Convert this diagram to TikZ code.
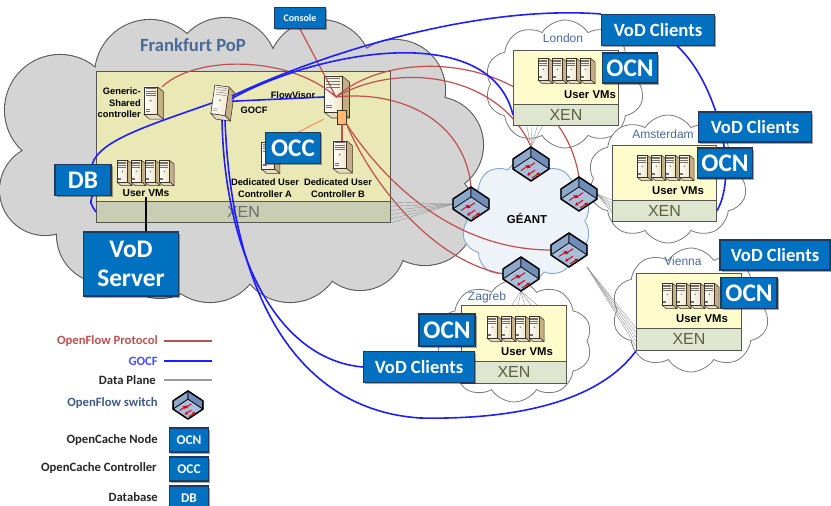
\documentclass[tikz,border=0pt]{standalone}
\usepackage{fontspec}
\setmainfont{Carlito}
\newfontfamily\arialfont{Liberation Sans}
\usetikzlibrary{shapes.symbols,shadows,calc,arrows.meta}

\definecolor{ofred}{HTML}{C0504D}
\definecolor{gocfblue}{HTML}{1E1EFF}
\definecolor{tagblue}{HTML}{0070C0}
\definecolor{tagedge}{HTML}{1F3A5F}
\definecolor{popgray}{HTML}{D4D4D4}
\definecolor{popedge}{HTML}{5A5A5A}
\definecolor{cityedge}{HTML}{7A7A7A}
\definecolor{geantfill}{HTML}{EEF2F9}
\definecolor{geantedge}{HTML}{88A8D2}
\definecolor{vmyellow}{HTML}{FEFCCA}
\definecolor{xengreen}{HTML}{DFE6CF}
\definecolor{fravm}{HTML}{EAE8B5}
\definecolor{fraxen}{HTML}{C9CEB2}
\definecolor{boxedge}{HTML}{555555}
\definecolor{xentext}{HTML}{5E5E40}
\definecolor{citytext}{HTML}{4A6A9A}
\definecolor{srvfront}{HTML}{F1E6CC}
\definecolor{srvtop}{HTML}{E8DCC0}
\definecolor{srvside}{HTML}{C6AE84}
\definecolor{srvline}{HTML}{3A3328}
\definecolor{swtop}{HTML}{A9BFDC}
\definecolor{swleft}{HTML}{8EA8CC}
\definecolor{swright}{HTML}{6F8DB8}

\newcommand\tagfont{\fontsize{19}{22}\selectfont\bfseries}
\newcommand\clientfont{\fontsize{14}{16}\selectfont\bfseries}
\newcommand\consolefont{\fontsize{7.5}{9}\selectfont\bfseries}
\newcommand\legendtagfont{\fontsize{10}{12}\selectfont\bfseries}
\newcommand\legendfont{\fontsize{9.5}{11}\selectfont\bfseries}

% puffs of the Frankfurt cloud: x/y/radius
\newcommand\fraPuffs{60/110/55, 150/75/55, 225/70/52, 320/72/52, 395/90/50, 435/145/48,
  425/215/50, 360/245/45, 290/250/52, 210/250/52, 160/250/48, 105/235/48, 45/190/45}

\pgfdeclarelayer{clouds}
\pgfdeclarelayer{fra}
\pgfdeclarelayer{links}
\pgfsetlayers{clouds,fra,links,main}

\tikzset{
  wh/.style 2 args={minimum width=#1*0.75pt, minimum height=#2*0.75pt},
  citycloud/.style={cloud, cloud puffs=10, cloud puff arc=115, cloud ignores aspect, fill=white, draw=cityedge, line width=0.6pt, inner sep=0},
  geantcloud/.style={cloud, cloud puffs=10, cloud puff arc=115, cloud ignores aspect, fill=geantfill, draw=geantedge, line width=0.7pt, inner sep=0},
  vmbox/.style={fill=vmyellow, draw=boxedge, line width=0.7pt, inner sep=0, anchor=north west},
  xenbar/.style={fill=xengreen, draw=boxedge, line width=0.7pt, inner sep=0, anchor=north west, text=xentext, font=\arialfont\fontsize{12}{14}\selectfont},
  tag/.style={fill=tagblue, draw=tagedge, line width=0.8pt, text=white, inner sep=0,
    drop shadow={shadow xshift=1.2pt, shadow yshift=-1.2pt, opacity=0.35, fill=black}},
  srvspot/.style={inner sep=0, outer sep=0},
  swspot/.style={inner sep=0, outer sep=0, wh={36}{34}},
  srvlabel/.style={inner sep=0, font=\arialfont\fontsize{7}{8.6}\selectfont\bfseries},
  vmlabel/.style={inner sep=0, font=\arialfont\fontsize{8.5}{10}\selectfont\bfseries},
  citylabel/.style={inner sep=0, text=citytext, font=\arialfont\fontsize{9}{10}\selectfont},
  legend label/.style={anchor=east, inner sep=0, font=\legendfont},
  of link/.style={draw=ofred, line width=0.9pt},
  occ link/.style={draw=orange!60!ofred!70, line width=0.8pt},
  gocf link/.style={draw=gocfblue, line width=1.2pt},
  data link/.style={draw=gray!85, line width=0.3pt},
  swarrow/.style={draw=red!85!black, line width=0.7pt, -{Stealth[length=2.6pt,width=2.8pt]}},
  server/.pic={
    \filldraw[fill=srvside, draw=srvline, line width=0.4pt, line join=round] (4,-10) -- (9,-14) -- (9,10) -- (4,14) -- cycle;
    \filldraw[fill=srvtop, draw=srvline, line width=0.4pt, line join=round] (-8,-10) -- (-3,-14) -- (9,-14) -- (4,-10) -- cycle;
    \filldraw[left color=white, right color=srvfront, draw=srvline, line width=0.4pt] (-8,-10) rectangle (4,14);
    \foreach \v in {6.5,8.5,10.5,12.5}
      \draw[srvline!70, line width=0.3pt] (-6.5,\v) -- (2.5,\v);
    \draw[srvline!70, line width=0.3pt] (-6.5,-7) -- (-3,-7) (-6.5,-5.5) -- (-3,-5.5);
    \fill[green!50!black] (-2,2) circle (0.7);
  },
  vms/.pic={
    \foreach \dx in {-21,-7,7,21}
      \pic[scale=0.9] at (\dx,0) {server};
  },
  ofswitch/.pic={
    \filldraw[fill=swleft, draw=black, line width=0.5pt, line join=round] (-18,-5) -- (0,7) -- (0,17) -- (-18,5) -- cycle;
    \filldraw[fill=swright, draw=black, line width=0.5pt, line join=round] (0,7) -- (18,-5) -- (18,5) -- (0,17) -- cycle;
    \filldraw[fill=swtop, draw=black, line width=0.5pt, line join=round] (0,-17) -- (18,-5) -- (0,7) -- (-18,-5) -- cycle;
    \draw[black, line width=1.1pt, line join=round] (0,-17) -- (18,-5) -- (18,5) -- (0,17) -- (-18,5) -- (-18,-5) -- cycle;
    \draw[swarrow] (-10,-6.5) -- (-2,-1.2);
    \draw[swarrow] (4,-6.2) -- (-4,-11.5);
    \draw[swarrow] (1,-14) -- (9,-8.7);
    \draw[swarrow] (4,1.3) -- (-4,-4);
  },
}

\begin{document}
\begin{tikzpicture}[x=0.75pt,y=0.75pt,yscale=-1,xscale=1]
  \useasboundingbox (0,0) rectangle (831,506);

  % clouds
  \begin{pgfonlayer}{clouds}
    % Frankfurt PoP: outlined puffs, then filled over so only the rim stays
    \foreach \x/\y/\r in \fraPuffs
      \draw[draw=popedge, line width=1.6pt] (\x,\y) circle (\r);
    \foreach \x/\y/\r in \fraPuffs
      \fill[popgray] (\x,\y) circle (\r);
    \fill[popgray] (60,110) -- (150,75) -- (225,70) -- (320,72) -- (395,90) -- (435,145) -- (425,215)
      -- (360,245) -- (290,250) -- (210,250) -- (160,250) -- (105,235) -- (45,190) -- cycle;

    \node[citycloud, wh={160}{128}] (lonCloud) at (565,84) {};
    \node[citycloud, wh={160}{128}] (amsCloud) at (668,179) {};
    \node[citycloud, wh={158}{124}] (vieCloud) at (691,310) {};
    \node[citycloud, wh={156}{122}] (zagCloud) at (514,341) {};
    \node[geantcloud, wh={130}{122}] (geantCloud) at (526,221) {};

    \node[text=citytext, font=\fontsize{14}{16}\selectfont\bfseries] (fraLbl) at (193,45) {Frankfurt PoP};
    \node[citylabel] (lonLbl) at (563,38) {London};
    \node[citylabel] (amsLbl) at (663,134) {Amsterdam};
    \node[citylabel] (vieLbl) at (683,261) {Vienna};
    \node[citylabel] (zagLbl) at (487,297) {Zagreb};
  \end{pgfonlayer}
  \node[inner sep=0, font=\arialfont\fontsize{8.6}{10}\selectfont\bfseries] (geantLbl) at (527,218) {GÉANT};

  % Frankfurt host
  \begin{pgfonlayer}{fra}
    \node[vmbox, fill=fravm, wh={294}{130}] (fraVm) at (96,71) {};
    \node[xenbar, fill=fraxen, text=gray!85!black, wh={294}{21}] (fraXen) at (96,201) {XEN};

    \node[srvspot, wh={18}{32}] (generic) at (153,103) {};
    \pic[scale=1.15] at (generic) {server};
    \node[srvspot, wh={20}{34}] (gocf) at (222,103) {};
    \pic[scale=1.2, rotate=-8] at (gocf) {server};
    \node[srvspot, wh={24}{44}] (fv) at (336,97) {};
    \pic[scale=1.5] at (fv) {server};
    \node[srvspot, fill=orange!55, draw=srvline, line width=0.4pt, wh={9}{14}] (fvport) at (342,117) {};
    \node[srvspot, wh={18}{32}] (dedA) at (270,158) {};
    \pic[scale=1.1] at (dedA) {server};
    \node[srvspot, wh={18}{32}] (dedB) at (342,157) {};
    \pic[scale=1.15] at (dedB) {server};
    \pic at (145,173) {vms};

    \node[srvlabel, anchor=east, align=right] (genericLbl) at (141,103) {Generic-\\Shared\\controller};
    \node[srvlabel] (gocfLbl) at (254,110) {GOCF};
    \node[srvlabel] (fvLbl) at (293,95) {FlowVisor};
    \node[srvlabel, align=center] (dedALbl) at (265,188) {Dedicated User\\Controller A};
    \node[srvlabel, align=center] (dedBLbl) at (338,188) {Dedicated User\\Controller B};
    \node[vmlabel, font=\arialfont\fontsize{7.7}{9}\selectfont\bfseries] (fraVmsLbl) at (146,193) {User VMs};
  \end{pgfonlayer}

  % city hosts
  \node[vmbox, wh={105}{54}] (lonVm) at (513,50) {};
  \node[xenbar, wh={105}{21}] (lonXen) at (513,104) {XEN};
  \pic at (566,71) {vms};
  \node[vmlabel] (lonVmsLbl) at (590,95) {User VMs};

  \node[vmbox, wh={104}{55}] (amsVm) at (612,145) {};
  \node[xenbar, wh={104}{21}] (amsXen) at (612,200) {XEN};
  \pic at (665,168) {vms};
  \node[vmlabel] (amsVmsLbl) at (678,191) {User VMs};

  \node[vmbox, wh={105}{55}] (vieVm) at (636,273) {};
  \node[xenbar, wh={105}{22}] (vieXen) at (636,328) {XEN};
  \pic at (690,296) {vms};
  \node[vmlabel] (vieVmsLbl) at (702,319) {User VMs};

  \node[vmbox, wh={105}{56}] (zagVm) at (461,305) {};
  \node[xenbar, wh={105}{22}] (zagXen) at (461,361) {XEN};
  \pic at (515,329) {vms};
  \node[vmlabel] (zagVmsLbl) at (527,352) {User VMs};

  % OpenFlow switches
  \foreach \sw/\pos in {swFra/{(471,204)}, swLon/{(531,164)}, swAms/{(579,194)}, swVie/{(569,250)}, swZag/{(521,274)}} {
    \node[swspot] (\sw) at \pos {};
    \pic at (\sw) {ofswitch};
  }

  % OpenCache tags
  \node[tag, wh={51}{21}, font=\consolefont] (console) at (300,18) {Console};
  \node[tag, wh={55}{31}, font=\tagfont] (occ) at (293,148) {OCC};
  \node[tag, wh={56}{31}, font=\tagfont] (db) at (83,180) {DB};
  \node[tag, wh={95}{64}, font=\tagfont, align=center] (vodSrv) at (131,264) {VoD\\Server};
  \node[tag, wh={113}{31}, font=\clientfont] (lonVod) at (658,30) {VoD Clients};
  \node[tag, wh={55}{30}, font=\tagfont] (lonOcn) at (630,68) {OCN};
  \node[tag, wh={113}{30}, font=\clientfont] (amsVod) at (755,127) {VoD Clients};
  \node[tag, wh={55}{30}, font=\tagfont] (amsOcn) at (725,163) {OCN};
  \node[tag, wh={110}{30}, font=\clientfont] (vieVod) at (775,255) {VoD Clients};
  \node[tag, wh={56}{31}, font=\tagfont] (vieOcn) at (749,293) {OCN};
  \node[tag, wh={56}{32}, font=\tagfont] (zagOcn) at (447,330) {OCN};
  \node[tag, wh={111}{31}, font=\clientfont] (zagVod) at (419,367) {VoD Clients};

  \begin{pgfonlayer}{links}
    % OpenFlow control channels
    \draw[of link] (fv.center) .. controls (400,40) and (560,60) .. (swAms.north);
    \draw[of link] (fv.center) .. controls (400,60) and (500,75) .. (swLon.north);
    \draw[of link] (fv.center) .. controls (400,90) and (465,120) .. (swFra.north);
    \draw[of link] (fvport.south east) .. controls (390,190) and (460,250) .. (swVie.west);
    \draw[of link] (fvport.south east) .. controls (370,180) and (430,260) .. (swZag.west);
    \draw[of link] (generic.north east) .. controls (195,55) and (290,55) .. (fv.center);
    \draw[of link] (console.south) -- (fv.center);
    \draw[of link] (fvport.south) -- (dedB.north);
    \draw[occ link] (fv.south west) -- (dedA.north east);

    % GOCF channels
    \draw[gocf link] (gocf.10) -- (fv.west);
    \draw[gocf link] (gocf.west) .. controls (150,125) and (100,140) .. (db.60);
    \draw[gocf link] (db.-60) .. controls (90,203) .. (fraXen.west);
    \draw[gocf link] (gocf.35) .. controls (330,50) and (480,5) .. (lonVod.north west);
    \draw[gocf link] (gocf.25) .. controls (320,50) and (490,20) .. (lonXen.west);
    \draw[gocf link] (gocf.south) .. controls (225,260) and (280,360) .. (zagVod.west);
    \draw[gocf link] (gocf.-80) .. controls (232,300) and (300,410) .. (420,418)
      .. controls (520,420) and (600,400) .. (vieXen.south west);
    \draw[gocf link] (lonVod.-40) .. controls (715,80) and (740,170) .. (amsXen.east);

    % data plane
    \foreach \t in {0.05,0.24,0.43,0.62,0.81,1}
      \draw[data link] (swFra.west) -- ($(fraXen.north east)!\t!(fraXen.south east)$);
    \foreach \t in {0.13,0.18,0.23,0.28}
      \draw[data link] (swLon.north) -- ($(lonXen.south west)!\t!(lonXen.south east)$);
    \foreach \t in {0,0.15,0.3,0.45,0.6}
      \draw[data link] (swAms.east) -- ($(amsXen.north west)!\t!(amsXen.south west)$);
    \foreach \t in {0.48,0.54,0.6,0.66,0.72}
      \draw[data link] (swZag.south) -- ($(zagVm.north west)!\t!(zagVm.north east)$);
    \foreach \t in {0,0.2,0.4,0.6,0.8}
      \draw[data link] (swVie.south east) -- ($(vieXen.north west)!\t!(vieXen.south west)$);

    \draw[line width=0.8pt] (fraVmsLbl.south) -- (fraVmsLbl.south |- vodSrv.north);
  \end{pgfonlayer}

  % legend
  \node[legend label, text=ofred] (lgOf) at (158,341) {OpenFlow Protocol};
  \draw[of link, line width=1pt] (lgOf.east) ++(6,0) -- ++(48,0);
  \node[legend label, text=gocfblue!80] (lgGocf) at (158,361) {GOCF};
  \draw[gocf link, line width=1.5pt] (lgGocf.east) ++(6,0) -- ++(48,0);
  \node[legend label, text=black!85] (lgData) at (156,380) {Data Plane};
  \draw[draw=gray!80, line width=0.8pt] (lgData.east) ++(8,0) -- ++(48,0);
  \node[legend label, text=citytext!85!black] (lgSwLbl) at (158,403) {OpenFlow switch};
  \node[swspot] (lgSw) at (188,405) {};
  \pic[scale=0.83] at (lgSw) {ofswitch};
  \node[legend label, text=black!85] (lgOcnLbl) at (158,440) {OpenCache Node};
  \node[tag, wh={39}{24}, font=\legendtagfont] (lgOcn) at (189,440) {OCN};
  \node[legend label, text=black!85] (lgOccLbl) at (157,468) {OpenCache Controller};
  \node[tag, wh={39}{24}, font=\legendtagfont] (lgOcc) at (189,469) {OCC};
  \node[legend label, text=black!85] (lgDbLbl) at (158,497) {Database};
  \node[tag, wh={39}{24}, font=\legendtagfont] (lgDb) at (189,498) {DB};
\end{tikzpicture}
\end{document}
